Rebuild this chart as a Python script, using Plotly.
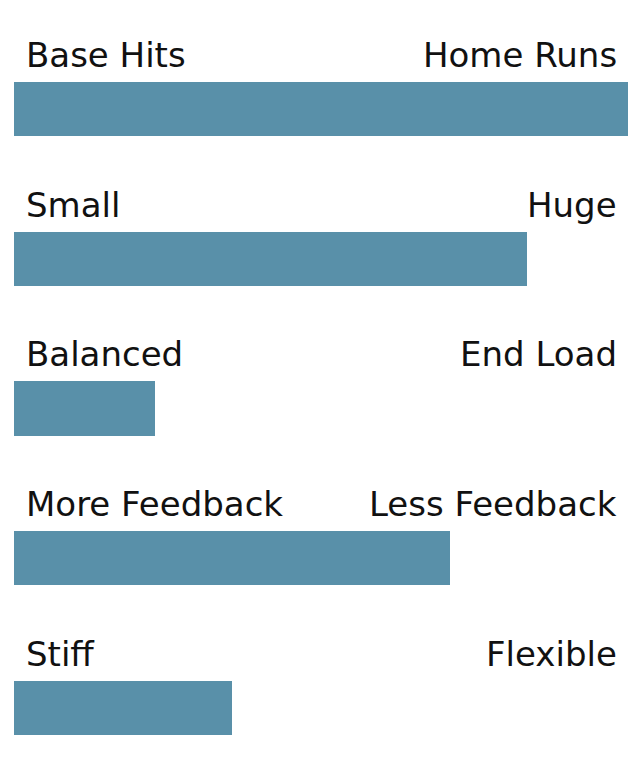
import plotly.graph_objects as go

categories = ["Power", "Sweet Spot", "Balance", "Feel", "Flex"]
left_labels = ["Base Hits", "Small", "Balanced", "More Feedback", "Stiff"]
right_labels = ["Home Runs", "Huge", "End Load", "Less Feedback", "Flexible"]
values = [100, 83.5, 23, 71, 35.5]

BAR_COLOR = "#5990a9"
FONT = "DejaVu Sans"

fig = go.Figure(
    go.Bar(
        x=values,
        y=categories,
        orientation="h",
        marker=dict(color=BAR_COLOR, line=dict(width=0)),
        width=0.363,
        hoverinfo="skip",
    )
)

annotations = []
for cat, lt, rt in zip(categories, left_labels, right_labels):
    annotations.append(dict(
        x=0, xref="paper", y=cat, yref="y", text=lt, showarrow=False,
        xanchor="left", yanchor="bottom", xshift=10, yshift=32,
        font=dict(family=FONT, size=34, color="#111111"),
    ))
    annotations.append(dict(
        x=1, xref="paper", y=cat, yref="y", text=rt, showarrow=False,
        xanchor="right", yanchor="bottom", xshift=-9, yshift=32,
        font=dict(family=FONT, size=34, color="#111111"),
    ))

fig.update_layout(
    width=640, height=780,
    margin=dict(l=14, r=12, t=0, b=0),
    paper_bgcolor="white", plot_bgcolor="white",
    showlegend=False,
    bargap=0,
    xaxis=dict(range=[0, 100], visible=False, fixedrange=True),
    yaxis=dict(range=[4.481, -0.728], visible=False, fixedrange=True,
               categoryorder="array", categoryarray=categories),
    annotations=annotations,
)

fig.write_html("out.html")
